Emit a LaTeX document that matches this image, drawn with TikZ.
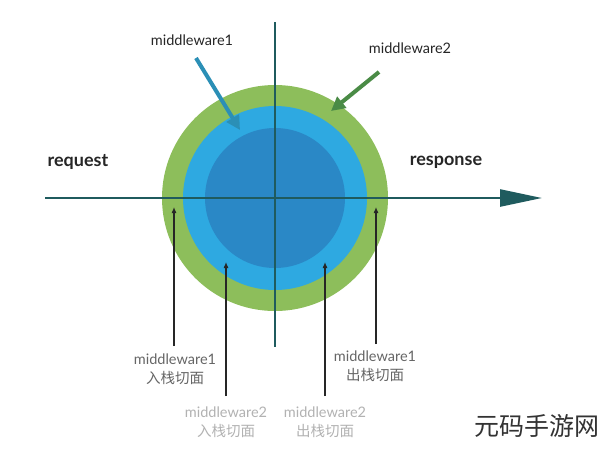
\documentclass[tikz,border=0pt]{standalone}
\usepackage{fontspec}
\setmainfont{Lato}
\newfontfamily\cjk{Noto Sans CJK SC}
\usetikzlibrary{arrows.meta}
\definecolor{axis}{HTML}{1F5B5E}
\definecolor{gout}{HTML}{8DBE5B}
\definecolor{bmid}{HTML}{2EA9E1}
\definecolor{binn}{HTML}{2A88C6}
\definecolor{mw1c}{HTML}{2B8FB6}
\definecolor{mw2c}{HTML}{4A8B46}
\begin{document}
\begin{tikzpicture}[x=1pt,y=-1pt,
  lbl/.style={font=\fontsize{14.5}{19}\selectfont, align=center, inner sep=0pt},
  head/.style={font=\bfseries\fontsize{18}{21}\selectfont, inner sep=0pt, text=black!85},
  ptr/.style={-{Latex[length=6pt,width=5pt]}, line width=1.1pt, black!85}]
\useasboundingbox (0,0) rectangle (600,448);
\fill[white] (0,0) rectangle (600,448);
\fill[gout] (275,198) circle (113);
\fill[bmid] (275,198) circle (92);
\fill[binn] (275,198) circle (70);
\coordinate (L) at (45,198);
\coordinate (R) at (542,198);
\coordinate (T) at (275,22);
\coordinate (B) at (275,347);
\draw[axis, line width=2.5pt] (T) -- (B);
\draw[axis, line width=2.5pt, -{Triangle[length=42pt,width=17pt]}] (L) -- (R);
\node[head] (req) at (78,162) {request};
\node[head] (resp) at (446,162) {response};
\node[head, font=\fontsize{14.5}{17}\selectfont] (m1) at (192,40) {middleware1};
\node[head, font=\fontsize{14.5}{17}\selectfont] (m2) at (410,48) {middleware2};
\coordinate (m1s) at (196,58); \coordinate (m1e) at (240,130);
\coordinate (m2s) at (379,72); \coordinate (m2e) at (331,111);
\draw[mw1c, line width=4pt, -{Triangle[length=14pt,width=14pt]}] (m1s) -- (m1e);
\draw[mw2c, line width=4pt, -{Triangle[length=14pt,width=14pt]}] (m2s) -- (m2e);
\node[lbl, text=black!60] (b1) at (175,369) {middleware1\\{\cjk 入栈切面}};
\node[lbl, text=black!30] (b2) at (226,422) {middleware2\\{\cjk 入栈切面}};
\node[lbl, text=black!30] (b3) at (325,422) {middleware2\\{\cjk 出栈切面}};
\node[lbl, text=black!60] (b4) at (375,366) {middleware1\\{\cjk 出栈切面}};
\coordinate (p1) at (174,207); \coordinate (p2) at (226,262);
\coordinate (p3) at (325,262); \coordinate (p4) at (376,207);
\draw[ptr] (174,346) -- (p1);
\draw[ptr] (226,396) -- (p2);
\draw[ptr] (325,396) -- (p3);
\draw[ptr] (376,344) -- (p4);
\node[inner sep=0pt, text=black!80, font=\cjk\fontsize{25}{28}\selectfont] (wm) at (537,426) {元码手游网};
\end{tikzpicture}
\end{document}
